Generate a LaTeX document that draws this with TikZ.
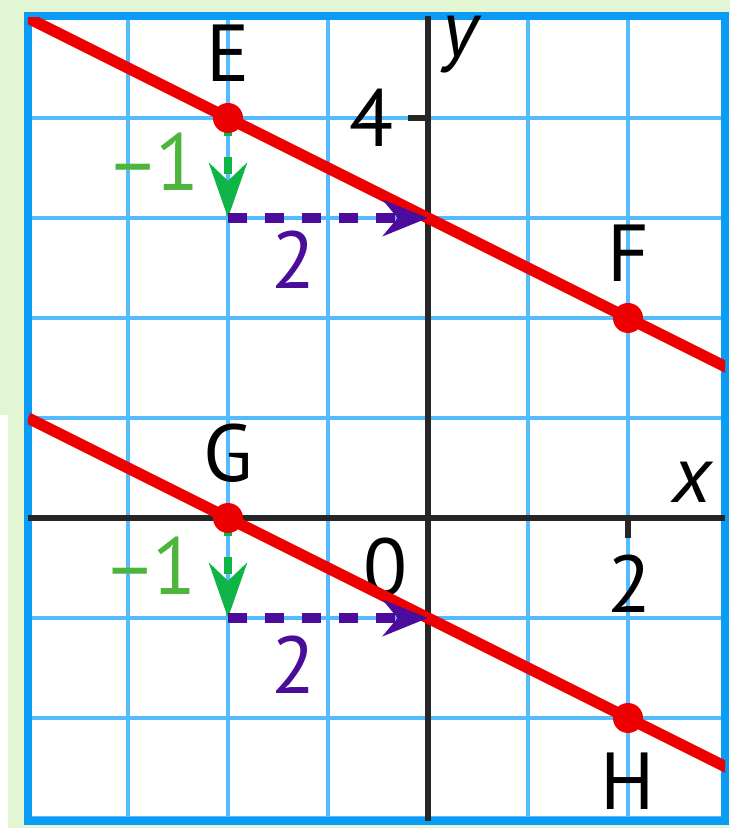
\documentclass[tikz,border=0pt]{standalone}
\usepackage{fontspec}
\setmainfont{PT Sans}
\usetikzlibrary{arrows.meta,calc}
\definecolor{gridBlue}{HTML}{55BBFF}
\definecolor{frameBlue}{HTML}{0A9BF5}
\definecolor{paleGreen}{HTML}{E3F6D3}
\definecolor{lineRed}{HTML}{EE0000}
\definecolor{runPurple}{HTML}{4B0C9C}
\definecolor{riseGreen}{HTML}{10B548}
\definecolor{riseLabel}{HTML}{4DB43C}

\begin{document}
\begin{tikzpicture}[
  >=Stealth,
  every node/.style={font=\fontsize{23}{25}\selectfont, inner sep=0pt},
  ptdot/.style={fill=lineRed, draw=none},
  risearrow/.style={-{Stealth[length=0.55cm,width=0.38cm]}, riseGreen, line width=2.2pt, dash pattern=on 5pt off 6pt},
  runarrow/.style={-{Stealth[length=0.45cm,width=0.36cm]}, runPurple, line width=2.6pt, dash pattern=on 5.5pt off 5pt}
]
  \useasboundingbox (-4.28,-3.10) rectangle (3.02,5.18);

  % Page background
  \fill[paleGreen] (-4.28,5.03) rectangle (3.02,5.18);
  \fill[paleGreen] (-4.28,1.03) rectangle (-4.0,5.18);
  \fill[paleGreen] (-4.20,-3.10) rectangle (-4.0,1.03);
  \fill[paleGreen] (-4.20,-3.10) rectangle (3.02,-3.06);

  % Grid
  \fill[white] (-4,-3.02) rectangle (2.97,5.01);
  \draw[gridBlue, line width=1.3pt] (-4,-3) grid (2.97,5);
  \draw[frameBlue, line width=2.4pt] (-4,-3.03) rectangle (2.97,5.02);

  % Axes
  \draw[black!85, line width=1.9pt] (-4,0) -- (2.97,0);
  \draw[black!85, line width=1.9pt] (0,-3.03) -- (0,5.02);
  \draw[black!85, line width=1.9pt] (0,4) -- (-0.2,4);
  \draw[black!85, line width=1.9pt] (2,0) -- (2,-0.2);
  \node at (-0.56,4.0) {4};
  \node at (-0.42,-0.49) {0};
  \node at (2.02,-0.66) {2};
  \node at (2.64,0.36) {\itshape x};
  \node at (0.32,4.73) {\itshape y};

  % Points on the two lines
  \coordinate (E) at (-2,4);
  \coordinate (F) at (2,2);
  \coordinate (G) at (-2,0);
  \coordinate (H) at (2,-2);
  \coordinate (Edown) at (-2,3);
  \coordinate (Eyint) at (0,3);
  \coordinate (Gdown) at (-2,-1);
  \coordinate (Gyint) at (0,-1);

  % Red lines
  \begin{scope}
    \clip (-4,-3) rectangle (2.97,5);
    \draw[lineRed, line width=3.2pt] ($(E)!-0.5!(F)$) -- ($(E)!1.5!(F)$);
    \draw[lineRed, line width=3.2pt] ($(G)!-0.5!(H)$) -- ($(G)!1.5!(H)$);
  \end{scope}

  % Rise and run
  \draw[risearrow] (E) -- (Edown);
  \draw[runarrow] (Edown) -- (Eyint);
  \draw[risearrow] (G) -- (Gdown);
  \draw[runarrow] (Gdown) -- (Gyint);
  \node[riseLabel] at (-2.75,3.56) {\textendash\kern-0.06em1};
  \node[runPurple] at (-1.34,2.58) {2};
  \node[riseLabel] at (-2.78,-0.48) {\textendash\kern-0.06em1};
  \node[runPurple] at (-1.34,-1.47) {2};

  % Dots and labels
  \foreach \p in {E,F,G,H}
    \fill[ptdot] (\p) circle (0.15);
  \node at ($(E)+(0,0.645)$) {E};
  \node at ($(F)+(0,0.645)$) {F};
  \node at ($(G)+(0,0.645)$) {G};
  \node at ($(H)+(0,-0.63)$) {H};
\end{tikzpicture}
\end{document}
